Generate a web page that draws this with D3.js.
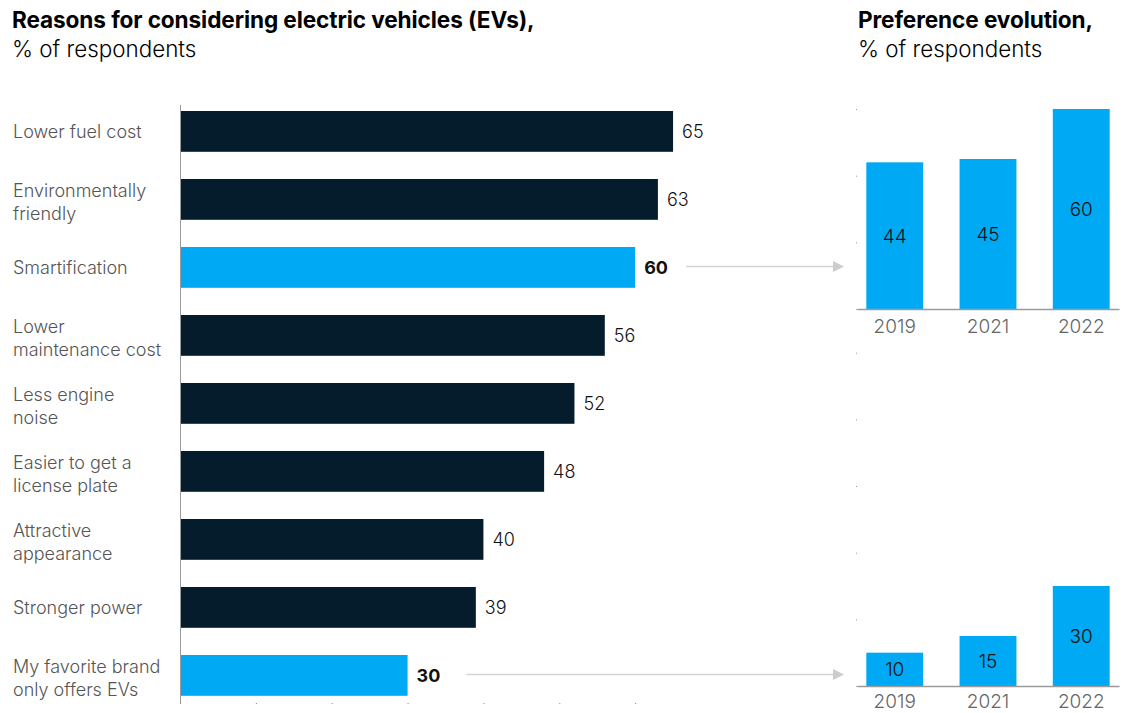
<!DOCTYPE html>
<html>
<head>
<meta charset="utf-8">
<script src="https://cdn.jsdelivr.net/npm/d3@7"></script>
<style>
  body { margin: 0; background: #ffffff; }
  svg { display: block; font-family: Inter, "Noto Sans", sans-serif; }
</style>
</head>
<body>
<div class="chart"></div>
<script>
// 数据
const reasonLabels = [
    ['Lower fuel cost'],
    ['Environmentally', 'friendly'],
    ['Smartification'],
    ['Lower', 'maintenance cost'],
    ['Less engine', 'noise'],
    ['Easier to get a', 'license plate'],
    ['Attractive', 'appearance'],
    ['Stronger power'],
    ['My favorite brand', 'only offers EVs']
];
const reasonValues = [65, 63, 60, 56, 52, 48, 40, 39, 30];
const highlighted = [false, false, true, false, false, false, false, false, true];
const xTicks = [0, 10, 20, 30, 40, 50, 60];

const years = ['2019', '2021', '2022'];
const smartValues = [44, 45, 60];
const brandValues = [10, 15, 30];
const smartTicks = [0, 20, 40, 60];
const brandTicks = [0, 20, 40, 60, 80, 100];

const width = 1125, height = 713;
const navy = '#051c2c', blue = '#00a9f4';

const svg = d3.select('.chart')
    .append('svg')
    .attr('width', width)
    .attr('height', height);

// 标题
const addTitle = (x, bold) => {
    const t = svg.append('text').attr('x', x).attr('fill', '#000');
    t.append('tspan').attr('x', x).attr('y', 28)
        .style('font-size', '22.6px').style('font-weight', 700)
        .style('letter-spacing', '-0.1px').text(bold);
    t.append('tspan').attr('x', x).attr('y', 57)
        .style('font-size', '22.4px').style('font-weight', 300).text('% of respondents');
};
addTitle(12, 'Reasons for considering electric vehicles (EVs),');
addTitle(858, 'Preference evolution,');

// 左侧横向条形图
const x = d3.scaleLinear().domain([0, 70]).range([180, 711]);
const y = d3.scaleBand()
    .domain(d3.range(reasonValues.length))
    .range([97.4, 709.4])
    .paddingInner(0.4)
    .paddingOuter(0.2);

svg.append('g')
    .attr('transform', 'translate(0,703)')
    .call(d3.axisBottom(x).tickValues(xTicks).tickSize(1).tickFormat(''))
    .call(g => g.select('.domain').remove())
    .call(g => g.selectAll('line').attr('stroke', '#888'));

svg.append('g')
    .selectAll('rect')
    .data(reasonValues)
    .join('rect')
    .attr('x', x(0))
    .attr('y', (d, i) => y(i))
    .attr('width', d => x(d) - x(0))
    .attr('height', y.bandwidth())
    .attr('fill', (d, i) => highlighted[i] ? blue : navy);

svg.append('line')
    .attr('x1', x(0) + 0.5).attr('x2', x(0) + 0.5)
    .attr('y1', 105).attr('y2', 703)
    .attr('stroke', '#9a9a9a').attr('stroke-width', 1);

svg.append('g')
    .selectAll('text')
    .data(reasonValues)
    .join('text')
    .attr('x', d => x(d) + 9)
    .attr('y', (d, i) => y(i) + y.bandwidth() / 2)
    .attr('dy', '0.36em')
    .style('font-size', '18px')
    .style('font-weight', (d, i) => highlighted[i] ? 700 : 300)
    .attr('fill', '#111')
    .text(d => d);

const labelG = svg.append('g');
reasonLabels.forEach((lines, i) => {
    // 两行标签整体略微下移
    const cy = y(i) + y.bandwidth() / 2 + (lines.length > 1 ? 3 : 0);
    const t = labelG.append('text')
        .attr('x', 13)
        .style('font-size', '18px')
        .style('font-weight', 300)
        .attr('fill', '#555');
    lines.forEach((line, j) => {
        t.append('tspan')
            .attr('x', 13)
            .attr('y', cy + (j - (lines.length - 1) / 2) * 23)
            .attr('dy', '0.36em')
            .text(line);
    });
});

// 右侧小柱状图
const xb = d3.scaleBand().domain(years).range([857, 1119]).paddingInner(0.39).paddingOuter(0.1);
const perUnit = 200 / 60;

const drawPanel = (values, ticks, baseY, pad) => {
    const ys = d3.scaleLinear()
        .domain([0, d3.max(ticks)])
        .range([baseY, baseY - d3.max(ticks) * perUnit]);
    const g = svg.append('g');

    g.append('g')
        .attr('transform', 'translate(857,0)')
        .call(d3.axisLeft(ys).tickValues(ticks).tickSize(1).tickFormat(''))
        .call(a => a.select('.domain').remove())
        .call(a => a.selectAll('line').attr('stroke', '#999'));

    g.selectAll('rect')
        .data(values)
        .join('rect')
        .attr('x', (d, i) => xb(years[i]))
        .attr('y', d => ys(d))
        .attr('width', xb.bandwidth())
        .attr('height', d => baseY - ys(d))
        .attr('fill', blue);

    g.selectAll('text.val')
        .data(values)
        .join('text')
        .attr('class', 'val')
        .attr('x', (d, i) => xb(years[i]) + xb.bandwidth() / 2)
        .attr('y', d => (ys(d) + baseY) / 2)
        .attr('dy', '0.36em')
        .attr('text-anchor', 'middle')
        .style('font-size', '19px')
        .style('font-weight', 300)
        .attr('fill', '#111')
        .text(d => d);

    g.append('g')
        .attr('transform', `translate(0,${baseY})`)
        .call(d3.axisBottom(xb).tickSize(0).tickPadding(pad))
        .call(a => a.select('.domain').attr('stroke', '#9a9a9a').attr('stroke-width', 1.5))
        .call(a => a.selectAll('text')
            .style('font-size', '19px')
            .style('font-weight', 300)
            .style('font-family', 'Inter, "Noto Sans", sans-serif')
            .attr('fill', '#666'));
    return ys;
};
drawPanel(smartValues, smartTicks, 309, 11);
drawPanel(brandValues, brandTicks, 686, 9);

// 箭头
const arrowRows = highlighted.map((h, i) => h ? i : -1).filter(i => i >= 0);
arrowRows.forEach((i, k) => {
    const ay = y(i) + y.bandwidth() / 2 - 1;
    const x1 = x(reasonValues[i]) + (k === 0 ? 51 : 59);
    const x2 = 844;
    svg.append('line')
        .attr('x1', x1).attr('x2', x2 - 10)
        .attr('y1', ay).attr('y2', ay)
        .attr('stroke', '#d4d4d4').attr('stroke-width', 1.5);
    svg.append('path')
        .attr('d', `M${x2 - 11},${ay - 5.5} L${x2},${ay} L${x2 - 11},${ay + 5.5} Z`)
        .attr('fill', '#cccccc');
});
</script>
</body>
</html>
